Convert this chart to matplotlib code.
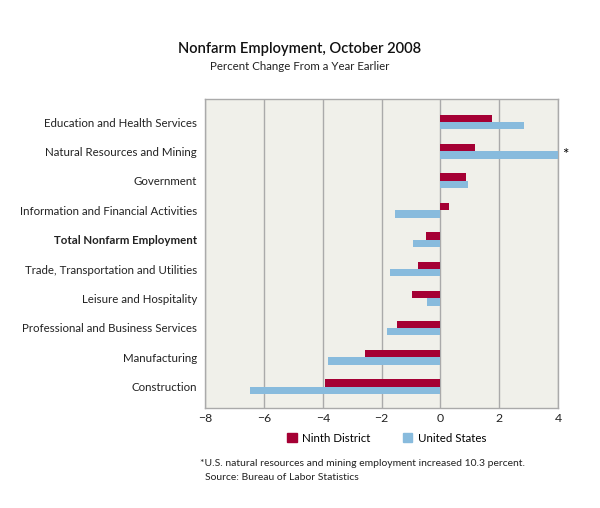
import numpy as np
import matplotlib.pyplot as plt
from matplotlib.patches import Patch

plt.rcParams['font.family'] = ['Lato', 'DejaVu Sans']

categories = ['Education and Health Services', 'Natural Resources and Mining', 'Government',
              'Information and Financial Activities', 'Total Nonfarm Employment',
              'Trade, Transportation and Utilities', 'Leisure and Hospitality',
              'Professional and Business Services', 'Manufacturing', 'Construction']
ninth = [1.76, 1.16, 0.86, 0.29, -0.5, -0.75, -0.95, -1.48, -2.56, -3.91]
us = [2.86, 10.3, 0.94, -1.56, -0.92, -1.73, -0.45, -1.8, -3.81, -6.49]
xticks = [-8, -6, -4, -2, 0, 2, 4]

red = '#A50034'
blue = '#88BBDD'

fig = plt.figure(figsize=(6, 5.08), dpi=100)
ax = fig.add_axes([0.342, 0.197, 0.588, 0.608])
ax.set_facecolor('#F0F0EA')

y = np.arange(len(categories))
h = 0.25
ax.barh(y - h/2, ninth, height=h, color=red, zorder=3)
ax.barh(y + h/2, us, height=h, color=blue, zorder=3)

ax.set_xlim(-8, 4)
ax.set_ylim(9.72, -0.78)
ax.set_xticks(xticks)
ax.set_xticklabels(['\u22128', '\u22126', '\u22124', '\u22122', '0', '2', '4'], fontsize=8.8, color='#222222')
ax.set_yticks(y)
ax.set_yticklabels(categories, fontsize=8.3, color='#222222')
ax.get_yticklabels()[4].set_fontweight('bold')
ax.tick_params(axis='y', length=0, pad=6)
ax.tick_params(axis='x', length=0, pad=4)
ax.grid(axis='x', color='#AAAAAA', linewidth=1, zorder=1)
for s in ax.spines.values():
    s.set_color('#AAAAAA')
    s.set_linewidth(1)

# US natural resources bar runs off the scale
ax.text(4.13, 1 + h/2, '*', fontsize=11, va='center', ha='left', clip_on=False)

fig.text(0.5, 0.895, 'Nonfarm Employment, October 2008', ha='center', fontsize=10.6,
         color='#111111', fontweight='semibold')
fig.text(0.5, 0.862, 'Percent Change From a Year Earlier', ha='center', fontsize=8.3, color='#222222')

handles = [Patch(color=red), Patch(color=blue)]
fig.legend(handles, ['Ninth District', 'United States'], loc='center', bbox_to_anchor=(0.645, 0.137),
           ncol=2, frameon=False, fontsize=8.3, handlelength=0.8, handleheight=0.8,
           columnspacing=2.8, handletextpad=0.5)

fig.text(0.333, 0.088, '*U.S. natural resources and mining employment increased 10.3 percent.',
         fontsize=7.5, color='#222222', va='center')
fig.text(0.342, 0.06, 'Source: Bureau of Labor Statistics', fontsize=7.5, color='#222222', va='center')

fig.savefig('out.png', dpi=100)
